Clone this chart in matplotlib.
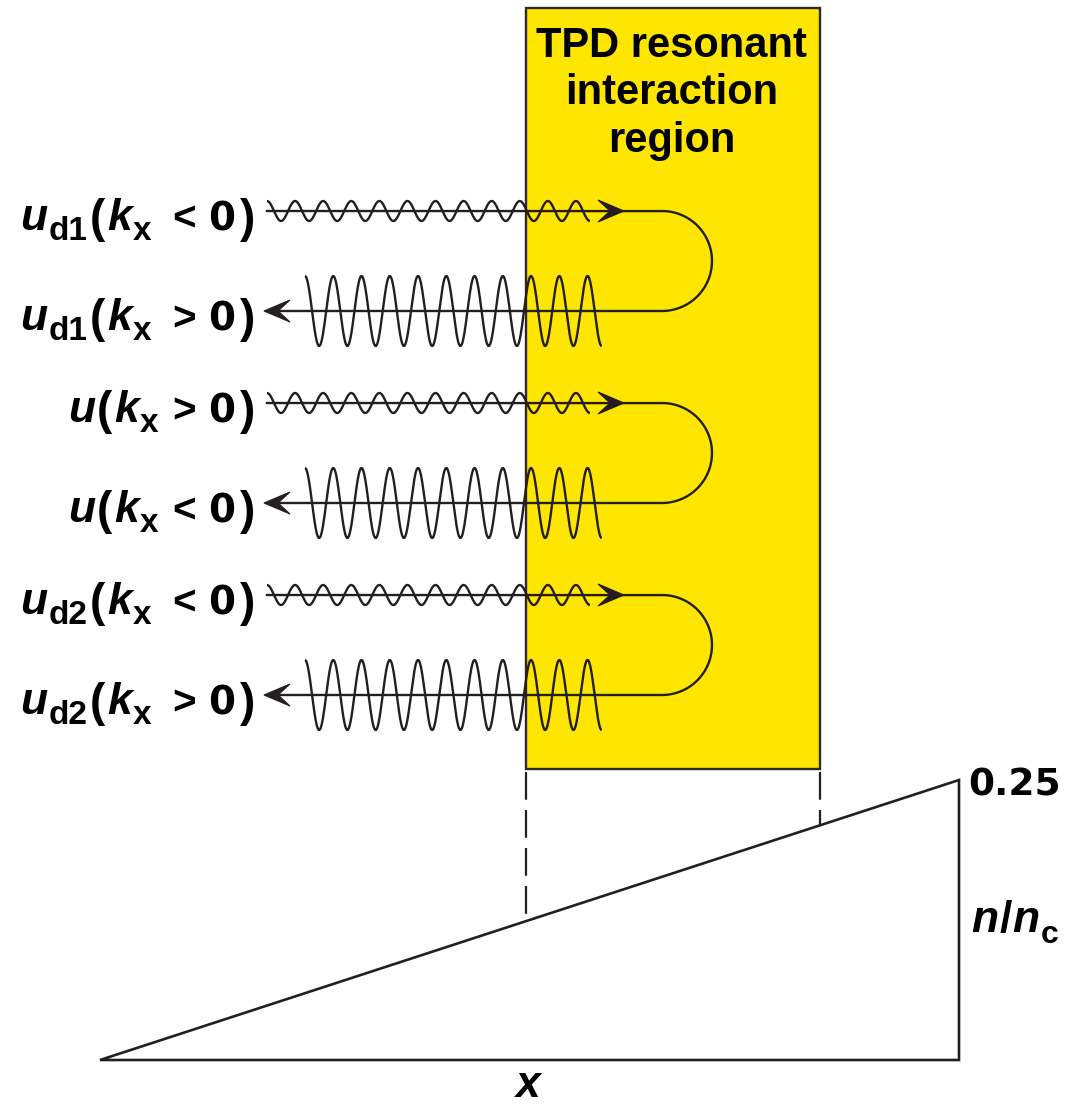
import numpy as np
import matplotlib
matplotlib.use("Agg")
import matplotlib.pyplot as plt
from matplotlib.patches import Rectangle, Polygon

# ---------------- data ----------------
row_var = ["u", "u", "u", "u", "u", "u"]
row_sub = ["d1", "d1", "", "", "d2", "d2"]
row_rel = ["<", ">", ">", "<", "<", ">"]
row_val = ["0", "0", "0", "0", "0", "0"]
row_kind = ["in", "out", "in", "out", "in", "out"]   # in: small wave -> ; out: large wave <-
wave_periods = {"in": 11.5, "out": 10.5}
wave_amp = {"in": 10.0, "out": 35.0}
box_lines = ["TPD resonant", "interaction", "region"]
profile_max_label = "0.25"
profile_axis_label = "x"

# ---------------- style ----------------
INK = "#231f20"
YELLOW = "#FFE600"
FONT = "Liberation Sans"
DIG = "DejaVu Sans"
VAR, PAR, MID, DIGS, SUB, SUBX = 32, 33, 29, 28, 24, 24
LW = 1.7

W, H = 1068, 1104
fig = plt.figure(figsize=(W / 100, H / 100), dpi=100)
ax = fig.add_axes([0, 0, 1, 1])
ax.set_xlim(0, W)
ax.set_ylim(H, 0)
ax.axis("off")
renderer = fig.canvas.get_renderer()


def txt(x, y, s, size, italic=False, fam=FONT, ha="left"):
    return ax.text(x, y, s, fontsize=size, fontweight="bold",
                   fontstyle="italic" if italic else "normal",
                   family=fam, ha=ha, va="baseline", color="black", zorder=5)


def rich(x_anchor, y_base, pieces, align="left"):
    """pieces: (text, size, italic, dy, gap_before, family)"""
    objs, widths = [], []
    for s, size, italic, dy, gap, fam in pieces:
        t = txt(0, y_base + dy, s, size, italic, fam)
        objs.append(t)
        widths.append(t.get_window_extent(renderer=renderer).width)
    total = sum(widths) + sum(p[4] for p in pieces)
    if align == "center":
        x = x_anchor - total / 2
    elif align == "right":
        x = x_anchor - total
    else:
        x = x_anchor
    for t, w, p in zip(objs, widths, pieces):
        x += p[4]
        t.set_x(x)
        x += w


def stealth(tip_x, y, direction, length=26, half=11, notch=14):
    pts = [(tip_x, y),
           (tip_x - direction * length, y - half),
           (tip_x - direction * notch, y),
           (tip_x - direction * length, y + half)]
    ax.add_patch(Polygon(pts, closed=True, facecolor=INK, edgecolor=INK,
                         lw=0.8, zorder=4))


# ---------------- layout ----------------
box_x0, box_x1, box_y0, box_y1 = 525.7, 819.5, 7.5, 769
pair_y0, pair_step, pair_gap = 211, 192, 100
wave_start = {"in": 267, "out": 305}
wave_end = {"in": 590, "out": 601.7}
line_left = 267
tip_in, tip_out, loop_cx = 624, 264, 662
left_sub, left_nosub, label_right = 20, 68, 255

# yellow region
ax.add_patch(Rectangle((box_x0, box_y0), box_x1 - box_x0, box_y1 - box_y0,
                       facecolor=YELLOW, edgecolor="#2a2a2a", lw=1.7, zorder=1))
for i, s in enumerate(box_lines):
    txt((box_x0 + box_x1) / 2 - 1, 57 + i * 47.5, s, 30, ha="center")

# rows
row_y = []
for i in range(len(row_kind)):
    row_y.append(pair_y0 + (i // 2) * pair_step + (i % 2) * pair_gap)

for i, kind in enumerate(row_kind):
    yc = row_y[i]
    x0, x1 = wave_start[kind], wave_end[kind]
    P = (x1 - x0) / wave_periods[kind]
    xs = np.linspace(x0, x1, 1200)
    ys = yc - wave_amp[kind] * np.cos(2 * np.pi * (xs - x0) / P)
    ax.plot(xs, ys, color=INK, lw=LW, zorder=3, solid_capstyle="butt")

    # label: left group (variable, subscript, "(", k_x) and right group ("<", "0", ")")
    yb = yc + 19.5
    left = [(row_var[i], VAR, True, 0, 0, FONT)]
    if row_sub[i]:
        left.append((row_sub[i], SUB, False, 10, 2, FONT))
    left += [("(", PAR, False, 2, 2, FONT),
             ("k", VAR, True, 0, 2, FONT),
             ("x", SUBX, False, 10, 1, FONT)]
    rich(left_sub if row_sub[i] else left_nosub, yb, left, align="left")
    right = [(row_rel[i], MID, False, 0, 0, FONT),
             (row_val[i], DIGS, False, 0, 12, DIG),
             (")", PAR, False, 2, 5, FONT)]
    rich(label_right, yb, right, align="right")

# loops + arrows
for p in range(0, len(row_kind), 2):
    y1, y2 = row_y[p], row_y[p + 1]
    r = (y2 - y1) / 2
    cy = (y1 + y2) / 2
    t = np.linspace(-np.pi / 2, np.pi / 2, 200)
    xs = np.concatenate([[line_left, loop_cx], loop_cx + r * np.cos(t), [loop_cx, tip_out + 10]])
    ys = np.concatenate([[y1, y1], cy + r * np.sin(t), [y2, y2]])
    ax.plot(xs, ys, color=INK, lw=LW, zorder=3)
    stealth(tip_in, y1, +1)
    stealth(tip_out, y2, -1)

# density profile triangle
tri_x0, tri_x1, tri_ytop, tri_ybot = 100, 959, 780, 1060
ax.add_patch(Polygon([(tri_x0, tri_ybot), (tri_x1, tri_ytop), (tri_x1, tri_ybot)],
                     closed=True, fill=False, edgecolor=INK, lw=1.9, joinstyle="miter", zorder=3))


def hyp_y(x):
    return tri_ybot - (x - tri_x0) / (tri_x1 - tri_x0) * (tri_ybot - tri_ytop)


for xd in (box_x0, box_x1):
    ax.plot([xd, xd], [box_y1 + 3, hyp_y(xd)], color=INK, lw=1.6,
            linestyle=(0, (12.5, 4.6)), zorder=3)

txt(968, 796, profile_max_label, 27, fam=DIG)
rich(971, 932, [("n", VAR, True, 0, 0, FONT), ("/", VAR, False, 0, 1, FONT),
                ("n", VAR, True, 0, 1, FONT), ("c", 23, False, 11, 1, FONT)])
txt(528, 1097, profile_axis_label, VAR, True, ha="center")

fig.savefig("out.png", dpi=100)
